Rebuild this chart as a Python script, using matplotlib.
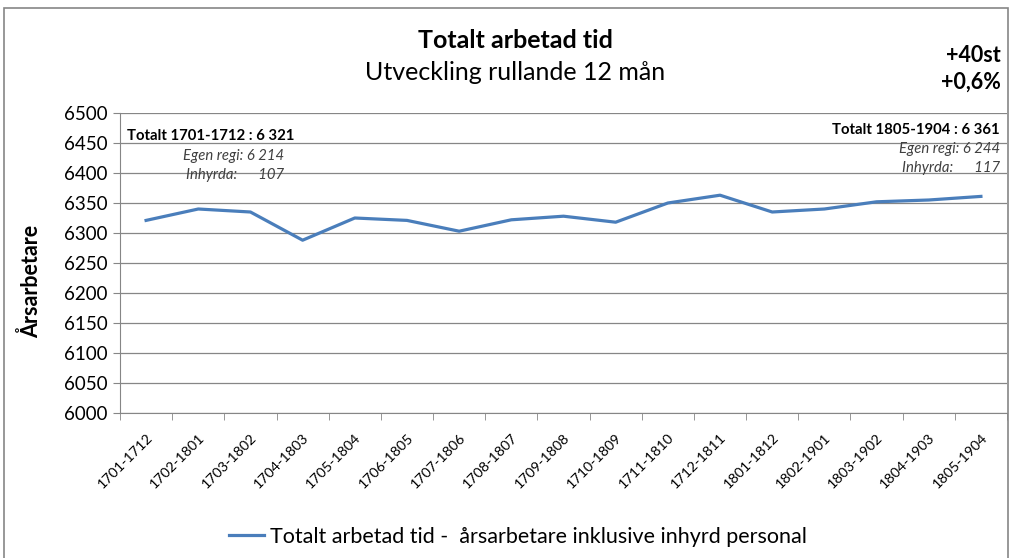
import matplotlib
matplotlib.use("Agg")
import matplotlib.pyplot as plt
import numpy as np
from matplotlib.patches import Rectangle

plt.rcParams['font.family'] = ['Lato', 'DejaVu Sans']

periods = ["1701-1712", "1702-1801", "1703-1802", "1704-1803", "1705-1804", "1706-1805",
           "1707-1806", "1708-1807", "1709-1808", "1710-1809", "1711-1810", "1712-1811",
           "1801-1812", "1802-1901", "1803-1902", "1804-1903", "1805-1904"]
totalt = [6321, 6340, 6335, 6288, 6325, 6321, 6303, 6322, 6328, 6318, 6350, 6363,
          6335, 6340, 6352, 6355, 6361]
yticks = list(range(6000, 6501, 50))

W, H = 1011, 558
fig = plt.figure(figsize=(W / 100, H / 100), dpi=100)
ax = fig.add_axes([120 / W, 1 - 413 / H, 887 / W, 300 / H])

x = np.arange(len(periods))
line, = ax.plot(x, totalt, color="#4A7EBB", lw=2.3, solid_joinstyle="round",
                label="Totalt arbetad tid -  årsarbetare inklusive inhyrd personal")

ax.set_xlim(-0.5, len(periods) - 0.5)
ax.set_ylim(6000, 6500)
ax.set_yticks(yticks)
ax.set_yticklabels([str(v) for v in yticks], fontsize=13.5)
ax.set_xticks(x)
ax.set_xticklabels(periods, rotation=45, ha="right", rotation_mode="anchor", fontsize=10.3)
ax.set_xticks(np.arange(len(periods) + 1) - 0.5, minor=True)
ax.tick_params(axis="x", which="major", length=0, pad=13)
ax.tick_params(axis="x", which="minor", length=5, color="#868686")
ax.tick_params(axis="y", length=5, color="#868686", pad=4)
ax.grid(axis="y", color="#868686", lw=0.9)
ax.set_axisbelow(True)
for s in ["top", "right"]:
    ax.spines[s].set_visible(False)
for s in ["left", "bottom"]:
    ax.spines[s].set_color("#868686")
ax.set_ylabel("Årsarbetare", fontsize=15.5, fontweight="bold")
ax.yaxis.set_label_coords(-0.088, 0.44)

# chart frame
fig.patches.append(Rectangle((4 / W, -0.05), 1004 / W, 1.05 - 8 / H, transform=fig.transFigure,
                             fill=False, edgecolor="#868686", lw=1.2))

fig.text(515 / W, 1 - 40 / H, "Totalt arbetad tid", ha="center", va="center",
         fontsize=18, fontweight="bold")
fig.text(515 / W, 1 - 73 / H, "Utveckling rullande 12 mån", ha="center", va="center", fontsize=18)
fig.text(1001 / W, 1 - 55 / H, "+40st", ha="right", va="center", fontsize=15.5, fontweight="bold")
fig.text(1001 / W, 1 - 82 / H, "+0,6%", ha="right", va="center", fontsize=15.5, fontweight="bold")

fig.text(127 / W, 1 - 136 / H, "Totalt 1701-1712 : 6 321", ha="left", va="center",
         fontsize=10.7, fontweight="bold")
fig.text(284 / W, 1 - 156 / H, "Egen regi: 6 214", ha="right", va="center", fontsize=10.7,
         style="italic", color="#404040")
fig.text(284 / W, 1 - 175 / H, "Inhyrda:      107", ha="right", va="center", fontsize=10.7,
         style="italic", color="#404040")
fig.text(1000 / W, 1 - 130 / H, "Totalt 1805-1904 : 6 361", ha="right", va="center",
         fontsize=10.7, fontweight="bold")
fig.text(1000 / W, 1 - 149 / H, "Egen regi: 6 244", ha="right", va="center", fontsize=10.7,
         style="italic", color="#404040")
fig.text(1000 / W, 1 - 168 / H, "Inhyrda:      117", ha="right", va="center", fontsize=10.7,
         style="italic", color="#404040")

fig.legend(handles=[line], loc="center", bbox_to_anchor=(518 / W, 1 - 537 / H), frameon=False,
           fontsize=15.5, handlelength=1.6, handletextpad=0.3)

fig.savefig("out.png", dpi=100)
